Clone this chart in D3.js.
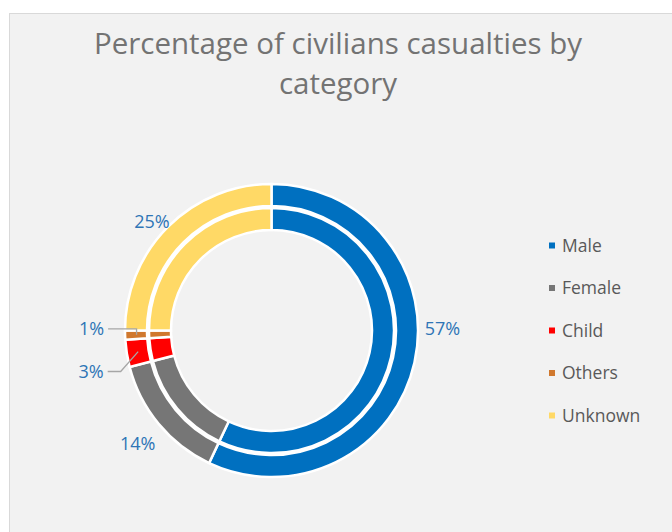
<!DOCTYPE html>
<html>
<head>
<meta charset="utf-8">
<script src="https://cdn.jsdelivr.net/npm/d3@7"></script>
<style>
	html, body { margin: 0; padding: 0; background: #ffffff; }
	svg { display: block; }
</style>
</head>
<body>
<svg id="chart"></svg>
<script>
// data
const categories = ["Male", "Female", "Child", "Others", "Unknown"]
const shares = [57, 14, 3, 1, 25]
const labels = ["57%", "14%", "3%", "1%", "25%"]
const colors = ["#0070c0", "#767676", "#ff0000", "#d0782e", "#ffd966"]

// where Excel had the labels dragged to: [angle in degrees from 12 o'clock, radius]
const labelSpots = {
	Male: [89.3, 171],
	Female: [229.9, 175],
	Child: [257.2, 185],
	Others: [270.5, 180],
	Unknown: [312.4, 162]
}
const withLeader = ["Child", "Others"]

const viewWidth = 672
const viewHeight = 532
const cx = 271.5
const cy = 330.5

const svg = d3.select("#chart")
	.attr("width", viewWidth)
	.attr("height", viewHeight)

// chart area
svg.append("rect")
	.attr("x", 9.5)
	.attr("y", 13.5)
	.attr("width", viewWidth)
	.attr("height", viewHeight)
	.attr("fill", "#f2f2f2")
	.attr("stroke", "#d9d9d9")
	.attr("stroke-width", 1)

const title = svg.append("text")
	.attr("x", 338)
	.attr("text-anchor", "middle")
	.style("font-family", "'Open Sans', sans-serif")
	.style("font-size", "29.5px")
	.style("fill", "#737373")
title.append("tspan").attr("x", 338).attr("y", 54).text("Percentage of civilians casualties by")
title.append("tspan").attr("x", 338).attr("y", 94).text("category")

const color = d3.scaleOrdinal()
	.domain(categories)
	.range(colors)

const rows = categories.map((c, i) => ({ name: c, value: shares[i], label: labels[i] }))

const pie = d3.pie()
	.sort(null)
	.value(d => d.value)

const arcs = pie(rows)

const rings = [[100.5, 122.5], [124.5, 146.5]]

const g = svg.append("g")
	.attr("transform", "translate(" + cx + "," + cy + ")")

rings.forEach(function (r) {
	const arc = d3.arc()
		.innerRadius(r[0])
		.outerRadius(r[1])

	g.append("g")
		.selectAll("path")
		.data(arcs)
		.enter()
		.append("path")
		.attr("d", arc)
		.style("fill", d => color(d.data.name))
		.style("stroke", "#ffffff")
		.style("stroke-width", 2.5)
})

const rad = Math.PI / 180

// data labels
const labelText = g.selectAll("text.data-label")
	.data(arcs)
	.enter()
	.append("text")
	.attr("class", "data-label")
	.attr("transform", function (d) {
		const s = labelSpots[d.data.name]
		const p = d3.pointRadial(s[0] * rad, s[1])
		return "translate(" + p[0] + "," + p[1] + ")"
	})
	.attr("text-anchor", "middle")
	.attr("dy", "0.36em")
	.style("font-family", "'Open Sans', sans-serif")
	.style("font-size", "18px")
	.style("fill", "#2e75b6")
	.text(d => d.data.label)

// leader lines for the thin slices
labelText.filter(d => withLeader.includes(d.data.name))
	.each(function (d) {
		const s = labelSpots[d.data.name]
		const p = d3.pointRadial(s[0] * rad, s[1])
		const w = this.getComputedTextLength()
		const start = [p[0] + w / 2 + 4, p[1]]
		const mid = (d.startAngle + d.endAngle) / 2
		const end = d3.pointRadial(mid, 135)
		const elbow = d.data.name === "Others" ? [end[0], start[1]] : [start[0] + 13, start[1]]
		g.append("path")
			.attr("d", d3.line()([start, elbow, end]))
			.attr("fill", "none")
			.attr("stroke", "#a6a6a6")
			.attr("stroke-width", 1.3)
	})

// legend
const ly = d3.scalePoint()
	.domain(categories)
	.range([245.5, 415.5])

const legend = svg.append("g")

legend.selectAll("rect")
	.data(categories)
	.enter()
	.append("rect")
	.attr("x", 549)
	.attr("y", d => ly(d) - 3)
	.attr("width", 6)
	.attr("height", 6)
	.style("fill", d => color(d))

legend.selectAll("text")
	.data(categories)
	.enter()
	.append("text")
	.attr("x", 562)
	.attr("y", d => ly(d))
	.attr("dy", "0.36em")
	.style("font-family", "'Open Sans', sans-serif")
	.style("font-size", "17.5px")
	.style("fill", "#595959")
	.text(d => d)
</script>
</body>
</html>
